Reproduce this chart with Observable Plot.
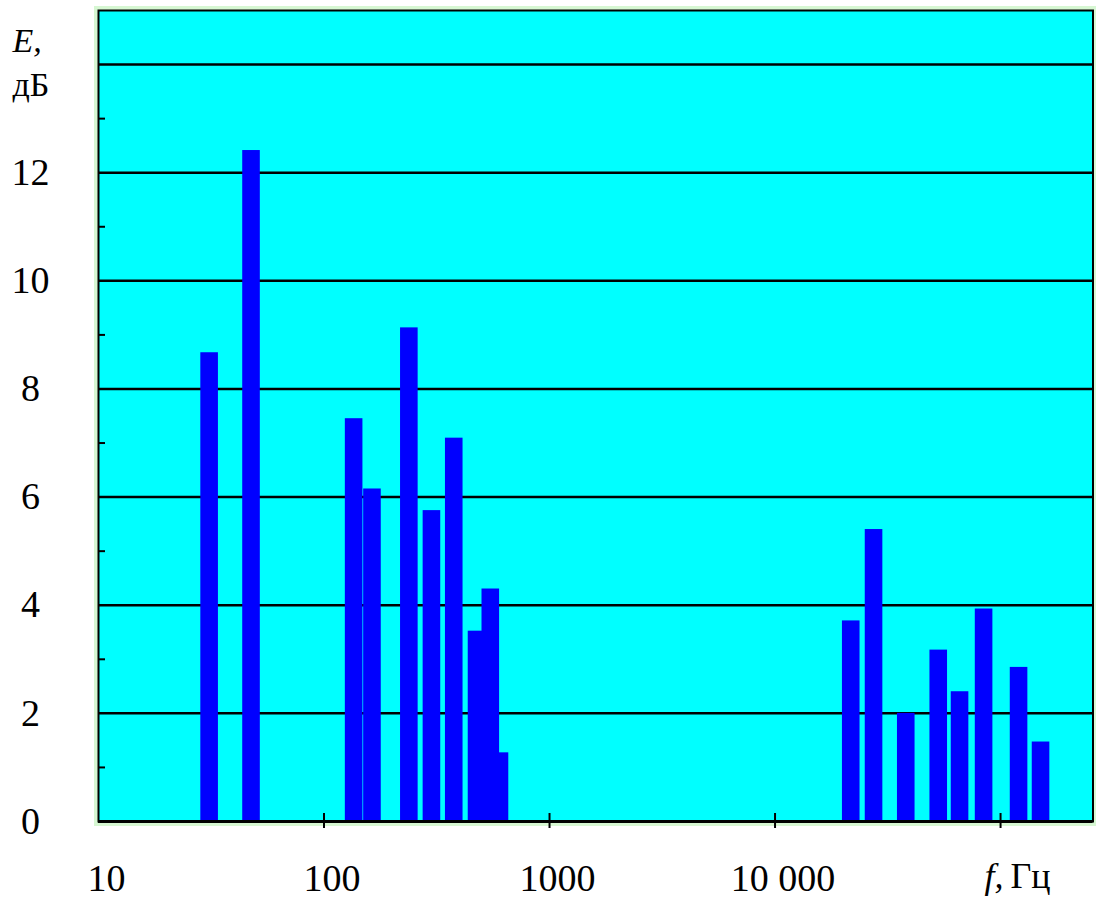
<!DOCTYPE html>
<html>
<head>
<meta charset="utf-8">
<script src="https://cdn.jsdelivr.net/npm/d3@7"></script>
<script src="https://cdn.jsdelivr.net/npm/@observablehq/plot@0.6"></script>
<style>
  html, body { margin: 0; padding: 0; background: #ffffff; }
</style>
</head>
<body>
<div id="chart"></div>
<script>
// Frequency of each band (Hz) and its level E (dB)
const freq  = [31.1, 47.7, 136, 164, 239, 301, 378, 477, 549, 603,
               21770, 27480, 38180, 53200, 66130, 84520, 120800, 151200];
const level = [8.67, 12.41, 7.45, 6.15, 9.13, 5.75, 7.09, 3.52, 4.30, 1.27,
               3.71, 5.40, 2.00, 3.17, 2.40, 3.93, 2.85, 1.47];

// Axis ticks
const yLabelTicks = [0, 2, 4, 6, 8, 10, 12];
const yGridTicks = [2, 4, 6, 8, 10, 12, 14];
const yMinorTicks = [1, 3, 5, 7, 9, 11, 13];
const xTickValues = [10, 100, 1000, 10000];
const xTickLabels = ["10", "100", "1000", "10 000"];
const xMarkTicks = [100, 1000, 10000, 100000];
const xUnitAt = [100000];

const bars = freq.map((f, i) => ({f, E: level[i]})).sort((a, b) => a.E - b.E);
const xLabels = xTickValues.map((v, i) => ({v, t: xTickLabels[i]}));
const halfBand = Math.pow(10, 0.039);

const serif = "'Liberation Serif', 'Times New Roman', serif";

const chart = Plot.plot({
  width: 1096,
  height: 900,
  marginLeft: 98,
  marginRight: 3.5,
  marginTop: 10,
  marginBottom: 79,
  style: {fontFamily: serif, background: "#ffffff", color: "#000000"},
  x: {type: "log", domain: [10, 257000]},
  y: {domain: [0, 15]},
  marks: [
    Plot.frame({stroke: "#d6f7d2", strokeWidth: 9}),
    Plot.frame({fill: "#00ffff"}),
    Plot.ruleY(yGridTicks, {stroke: "#000000", strokeWidth: 2.5}),
    Plot.rect(bars, {
      x1: d => d.f / halfBand,
      x2: d => d.f * halfBand,
      y1: 0,
      y2: "E",
      fill: "#0000ff"
    }),
    Plot.ruleY([0], {stroke: "#000000", strokeWidth: 3}),
    Plot.frame({stroke: "#000000", strokeWidth: 2}),
    Plot.axisY(yMinorTicks, {tickSize: 7, dx: 7, strokeWidth: 2, tickFormat: () => "", label: null}),
    Plot.axisY(yLabelTicks, {tickSize: 0, tickPadding: 68, textAnchor: "middle", fontSize: 38, tickFormat: d => String(d), label: null}),
    Plot.axisX(xMarkTicks, {tickSize: 15, dy: -8, strokeWidth: 2, tickFormat: () => "", label: null}),
    Plot.text(xLabels, {x: "v", text: "t", frameAnchor: "bottom", lineAnchor: "middle", dy: 57, dx: 8, fontSize: 38, textAnchor: "middle"}),
    Plot.text(xUnitAt, {x: d => d, text: () => "f,", frameAnchor: "bottom", lineAnchor: "middle", dy: 55, dx: 3, fontSize: 36, fontStyle: "italic", textAnchor: "end"}),
    Plot.text(xUnitAt, {x: d => d, text: () => "Гц", frameAnchor: "bottom", lineAnchor: "middle", dy: 55, dx: 10, fontSize: 36, textAnchor: "start"}),
    Plot.text(["E,"], {text: d => d, frameAnchor: "top-left", lineAnchor: "middle", dx: -86, dy: 31, fontSize: 34, fontStyle: "italic", textAnchor: "start"}),
    Plot.text(["дБ"], {text: d => d, frameAnchor: "top-left", lineAnchor: "middle", dx: -86, dy: 75, fontSize: 34, textAnchor: "start"})
  ]
});
document.getElementById("chart").appendChild(chart);
</script>
</body>
</html>
